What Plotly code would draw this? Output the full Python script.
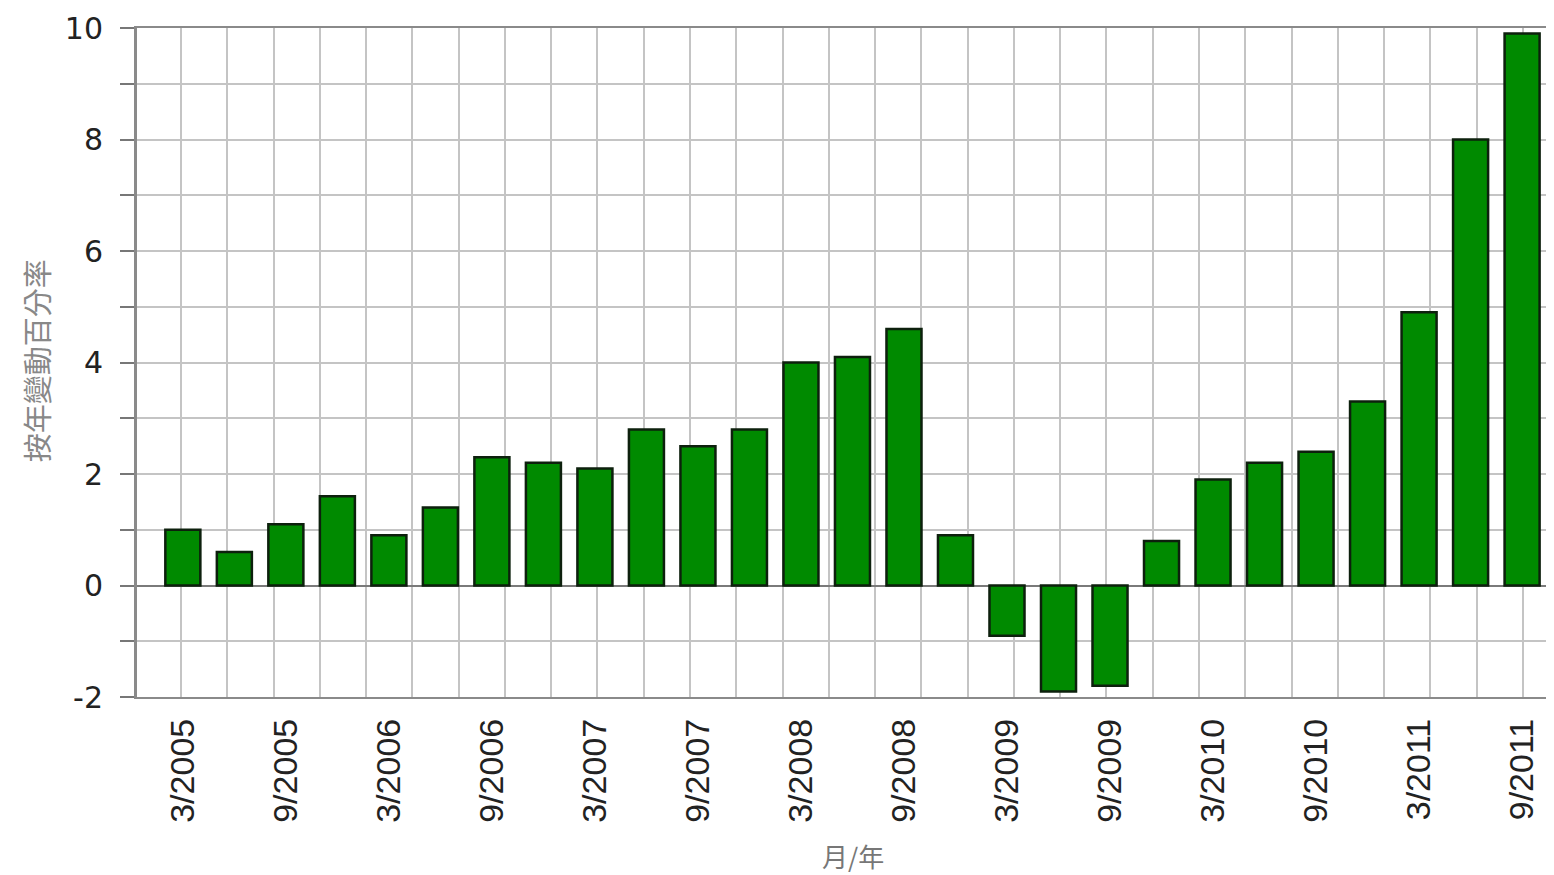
import plotly.graph_objects as go

periods = ["3/2005", "6/2005", "9/2005", "12/2005",
           "3/2006", "6/2006", "9/2006", "12/2006",
           "3/2007", "6/2007", "9/2007", "12/2007",
           "3/2008", "6/2008", "9/2008", "12/2008",
           "3/2009", "6/2009", "9/2009", "12/2009",
           "3/2010", "6/2010", "9/2010", "12/2010",
           "3/2011", "6/2011", "9/2011"]
values = [1.0, 0.6, 1.1, 1.6,
          0.9, 1.4, 2.3, 2.2,
          2.1, 2.8, 2.5, 2.8,
          4.0, 4.1, 4.6, 0.9,
          -0.9, -1.9, -1.8, 0.8,
          1.9, 2.2, 2.4, 3.3,
          4.9, 8.0, 9.9]
y_tick_vals = [-2, 0, 2, 4, 6, 8, 10]
y_tick_text = ["-2", "0", "2", "4", "6", "8", "10"]
y_title = "按年變動百分率"
x_title = "月/年"

idx = list(range(len(periods)))
label_idx = idx[::2]
label_text = periods[::2]

fig = go.Figure()
# invisible trace to hold the vertical grid axis
fig.add_trace(go.Scatter(x=[1], y=[0], xaxis="x", yaxis="y", mode="markers",
                         marker=dict(opacity=0), showlegend=False, hoverinfo="skip"))
fig.add_trace(go.Bar(x=idx, y=values, xaxis="x2", yaxis="y", width=0.68,
                     marker=dict(color="#008a00", line=dict(color="#0d200d", width=2.5)),
                     showlegend=False))

cjk = "Noto Sans CJK TC, Noto Sans CJK SC, sans-serif"

fig.update_layout(
    width=1546, height=867,
    margin=dict(l=129, r=1, t=20, b=178),
    paper_bgcolor="white", plot_bgcolor="white",
    font=dict(family="Liberation Sans, Arial, sans-serif", color="#222"),
    xaxis=dict(range=[0.05, 30.65], tick0=0, dtick=1, showgrid=True,
               gridcolor="#c4c4c4", gridwidth=2, showticklabels=False,
               ticks="", zeroline=False, showline=True, mirror=True,
               linecolor="#8a8a8a", linewidth=2),
    xaxis2=dict(overlaying="x", anchor="y", side="bottom", range=[-0.89, 26.6],
                tickmode="array", tickvals=label_idx, ticktext=label_text,
                tickangle=-90, ticklabelstandoff=14,
                tickfont=dict(size=34, color="#222",
                              family="Liberation Sans, Arial, sans-serif"),
                showgrid=False, zeroline=False, ticks="", showline=False),
    yaxis=dict(range=[-2, 10], tickmode="array", tickvals=y_tick_vals,
               ticktext=y_tick_text,
               tickfont=dict(size=30, color="#222",
                             family="DejaVu Sans, sans-serif"),
               showgrid=True, gridcolor="#c4c4c4", gridwidth=2,
               ticks="outside", ticklen=14, tickcolor="#777", tickwidth=2,
               ticklabelstandoff=11,
               minor=dict(dtick=1, tick0=0, showgrid=True, gridcolor="#c4c4c4",
                          gridwidth=2, ticks="outside", ticklen=14,
                          tickcolor="#777", tickwidth=2),
               zeroline=True, zerolinecolor="#7a7a7a", zerolinewidth=2,
               showline=True, linecolor="#8a8a8a", linewidth=3),
    annotations=[
        dict(text=x_title, xref="paper", yref="paper", x=0.5056, y=0,
             yshift=-158, xanchor="center", yanchor="middle", showarrow=False,
             font=dict(size=26, color="#777", family=cjk)),
        dict(text=y_title, xref="paper", yref="paper", x=0, y=0.502,
             xshift=-101, xanchor="center", yanchor="middle", textangle=-90,
             showarrow=False, font=dict(size=29, color="#888", family=cjk)),
    ],
)

fig.write_html("out.html")
